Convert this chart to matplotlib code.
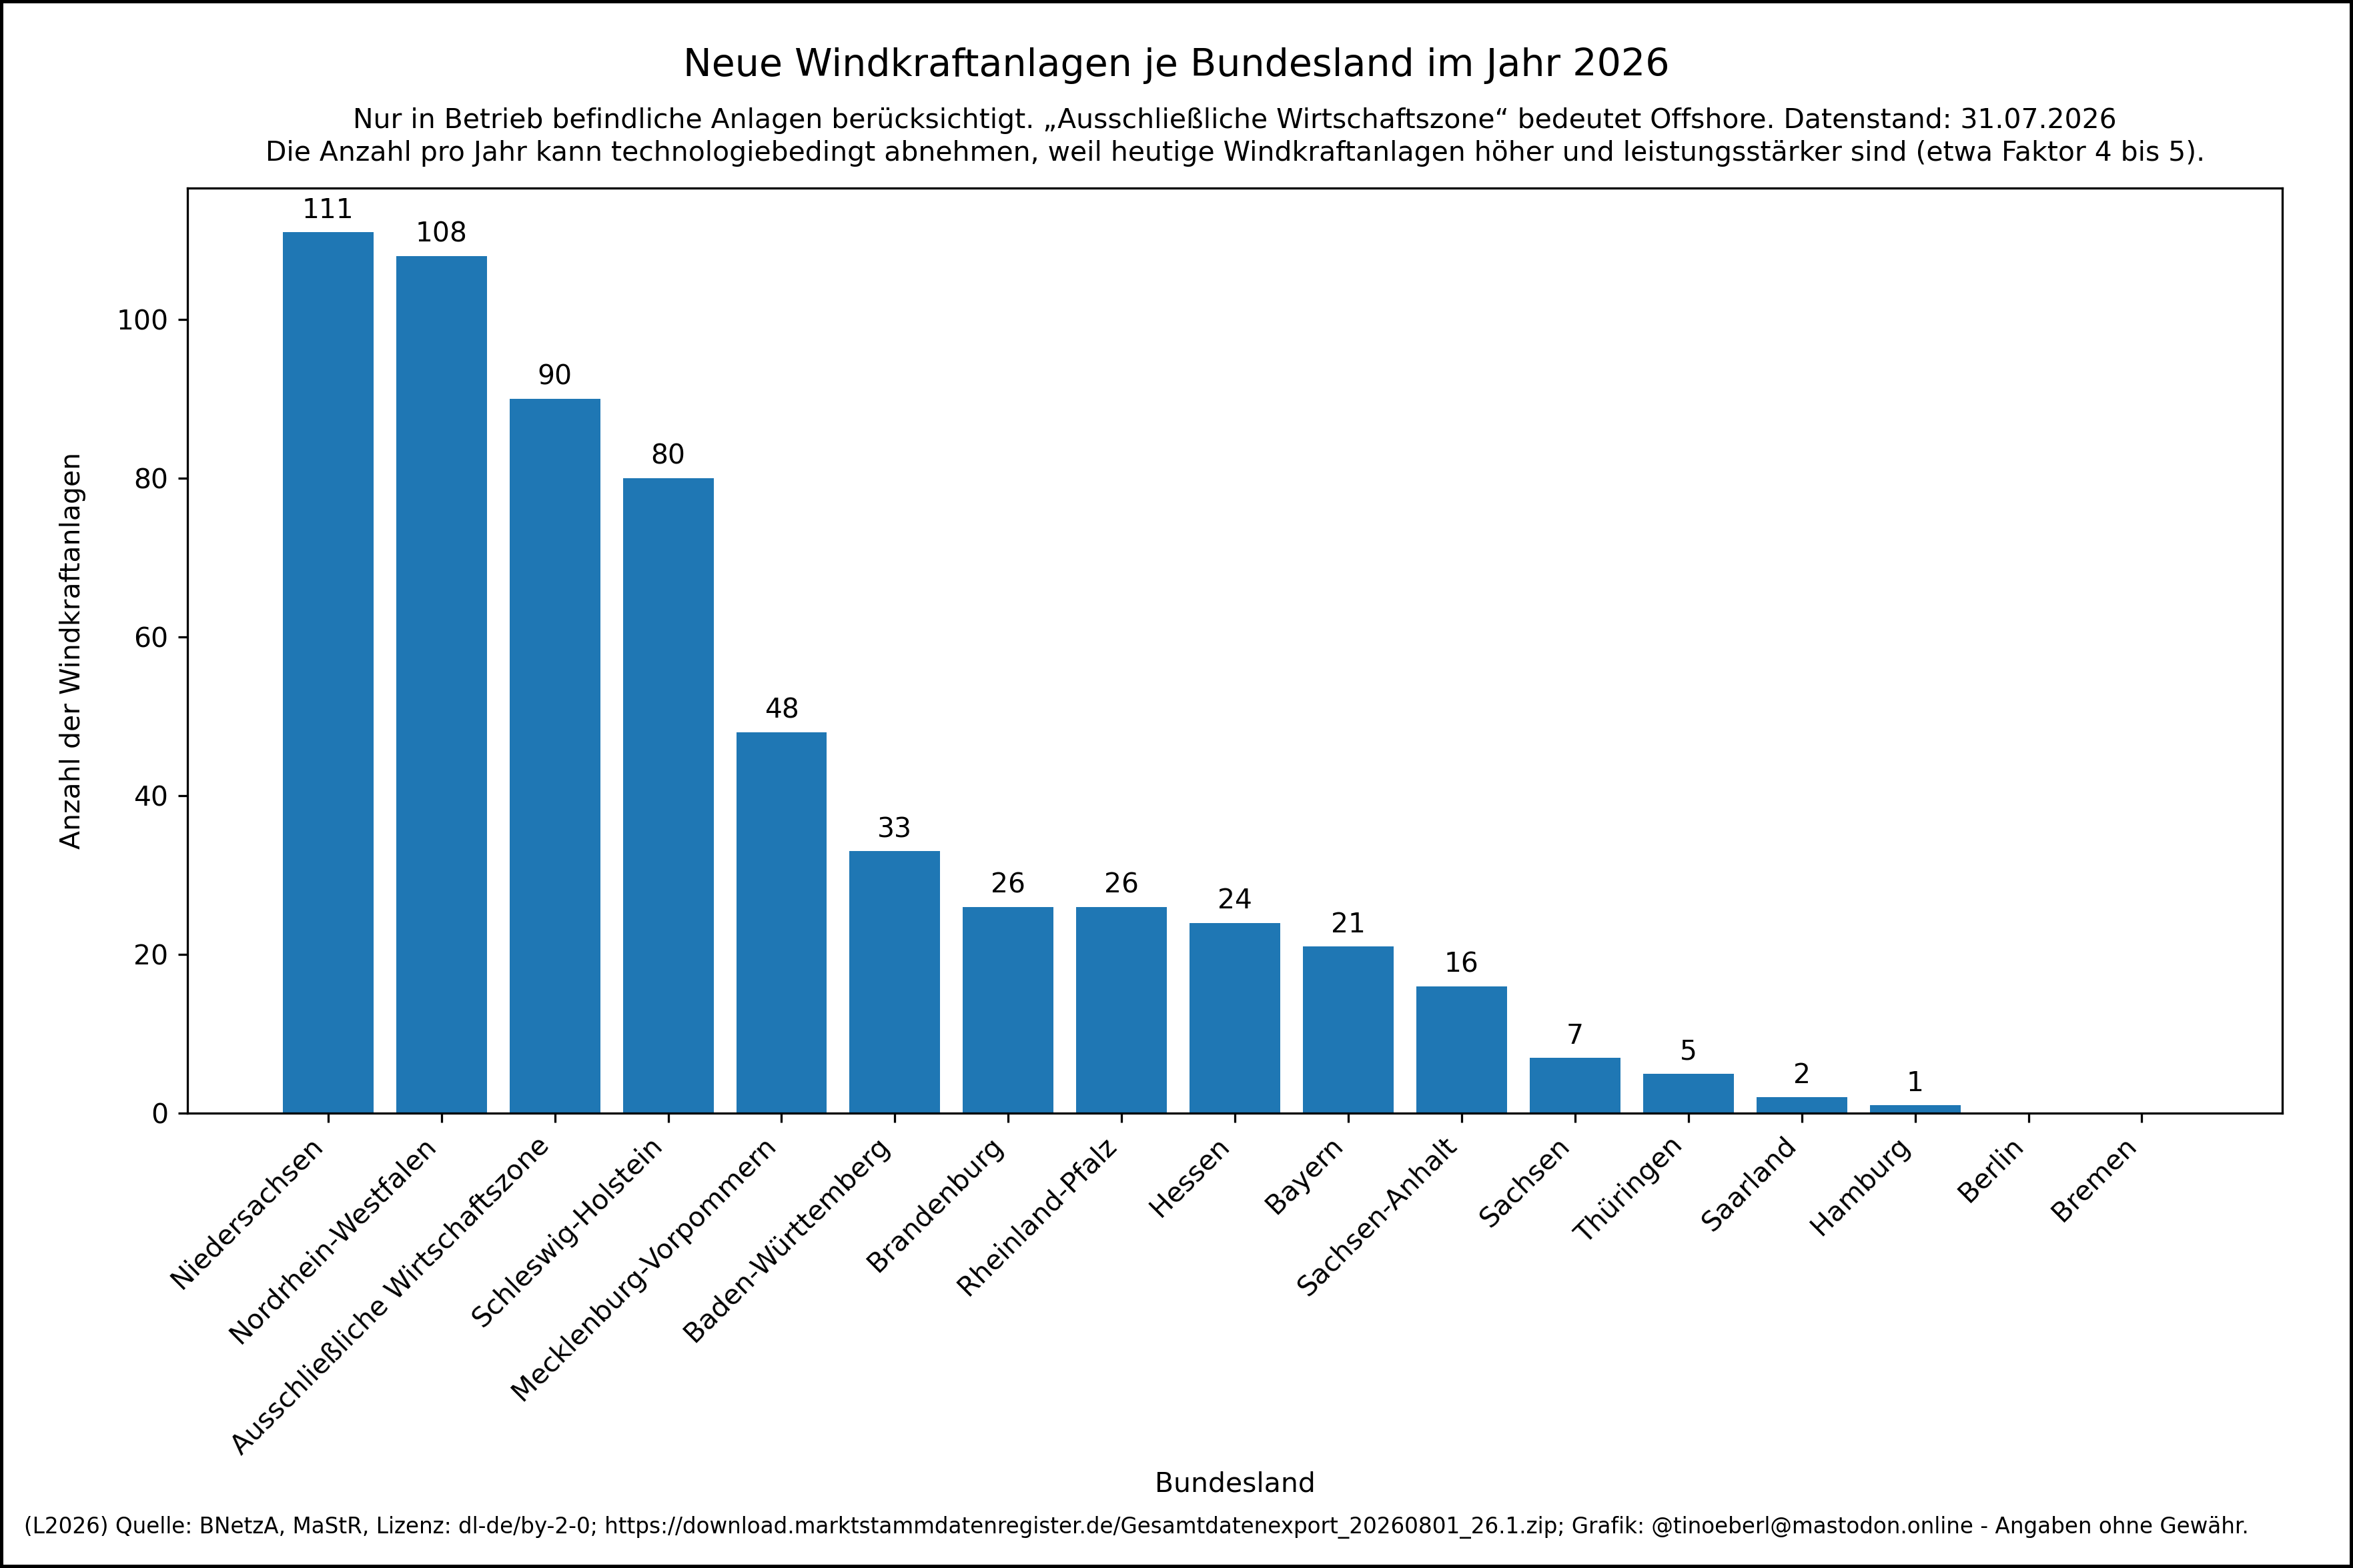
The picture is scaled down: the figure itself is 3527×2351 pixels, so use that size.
import matplotlib
matplotlib.use("Agg")
import matplotlib.pyplot as plt

# Daten
laender = [
    "Niedersachsen", "Nordrhein-Westfalen", "Ausschließliche Wirtschaftszone",
    "Schleswig-Holstein", "Mecklenburg-Vorpommern", "Baden-Württemberg",
    "Brandenburg", "Rheinland-Pfalz", "Hessen", "Bayern", "Sachsen-Anhalt",
    "Sachsen", "Thüringen", "Saarland", "Hamburg", "Berlin", "Bremen",
]
anzahl = [111, 108, 90, 80, 48, 33, 26, 26, 24, 21, 16, 7, 5, 2, 1, 0, 0]

titel = "Neue Windkraftanlagen je Bundesland im Jahr 2026"
untertitel = ("Nur in Betrieb befindliche Anlagen berücksichtigt. „Ausschließliche Wirtschaftszone“ "
              "bedeutet Offshore. Datenstand: 31.07.2026\n"
              "Die Anzahl pro Jahr kann technologiebedingt abnehmen, weil heutige Windkraftanlagen "
              "höher und leistungsstärker sind (etwa Faktor 4 bis 5).")
quelle = ("(L2026) Quelle: BNetzA, MaStR, Lizenz: dl-de/by-2-0; "
          "https://download.marktstammdatenregister.de/Gesamtdatenexport_20260801_26.1.zip; "
          "Grafik: @tinoeberl@mastodon.online - Angaben ohne Gewähr.")

DPI = 294
fig, ax = plt.subplots(figsize=(3527 / DPI, 2351 / DPI), dpi=DPI,
                       facecolor="white", edgecolor="black", linewidth=2)
fig.subplots_adjust(left=0.0797, right=0.970, top=0.880, bottom=0.290)

bars = ax.bar(laender, anzahl, color="#1f77b4")
# 0-Werte (Berlin, Bremen) ohne Beschriftung
ax.bar_label(bars, labels=[str(v) if v > 0 else "" for v in anzahl], padding=3)

fig.suptitle(titel, fontsize=14, y=0.970)
ax.set_title(untertitel, fontsize=10, pad=10, linespacing=1.3)
ax.set_xlabel("Bundesland")
ax.set_ylabel("Anzahl der Windkraftanlagen", labelpad=11)
plt.xticks(rotation=45, ha="right")

fig.text(0.0102, 0.026, quelle, fontsize=8, ha="left", va="center")

fig.savefig("out.png", dpi=DPI, facecolor=fig.get_facecolor(),
            edgecolor=fig.get_edgecolor())
